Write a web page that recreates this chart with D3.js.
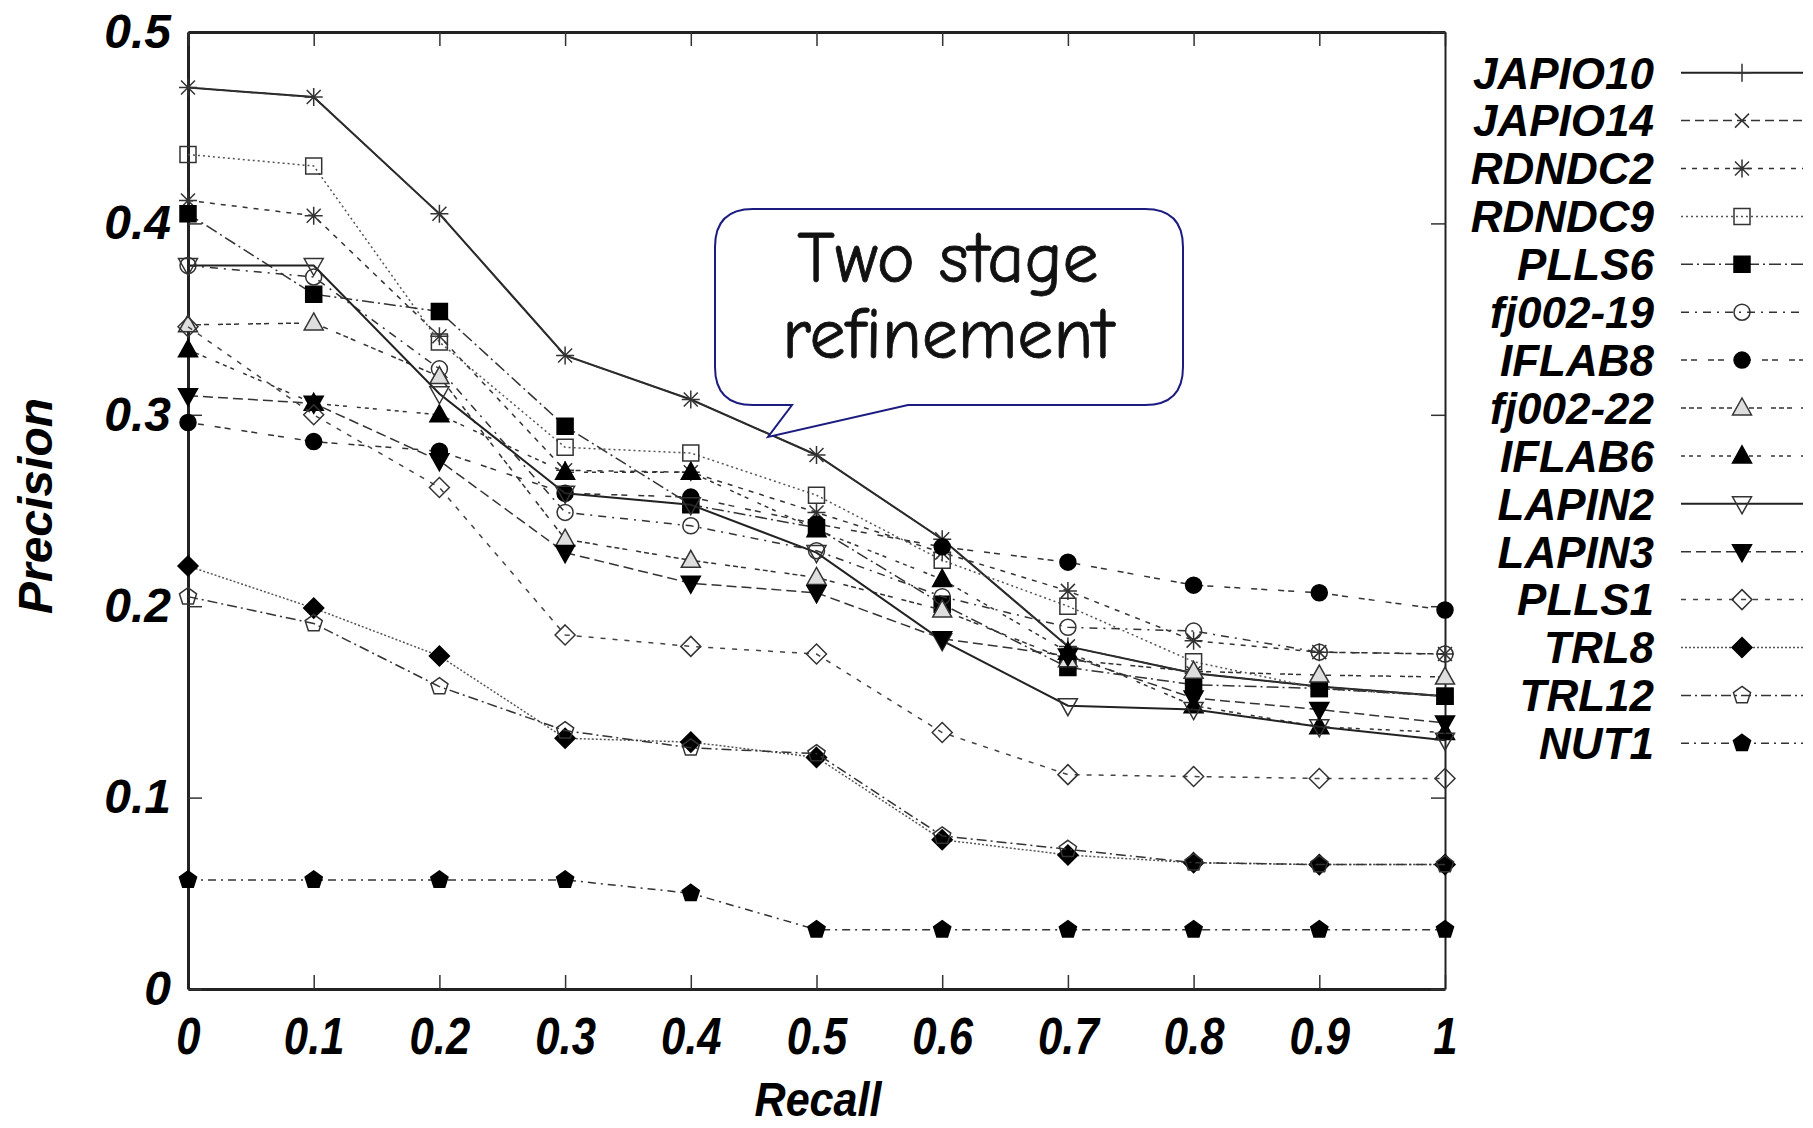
<!DOCTYPE html>
<html>
<head>
<meta charset="utf-8">
<script src="https://cdn.jsdelivr.net/npm/d3@7"></script>
<style>
  body { margin: 0; background: #fff; }
  svg { display: block; }
</style>
</head>
<body>
<div id="chart"></div>
<script>
// Recall levels (x) and tick labels
var recall = [0, 0.1, 0.2, 0.3, 0.4, 0.5, 0.6, 0.7, 0.8, 0.9, 1];
var xTickLabels = ["0", "0.1", "0.2", "0.3", "0.4", "0.5", "0.6", "0.7", "0.8", "0.9", "1"];
var yTicks = [0, 0.1, 0.2, 0.3, 0.4, 0.5];
var yTickLabels = ["0", "0.1", "0.2", "0.3", "0.4", "0.5"];

// Run names, in legend order
var runNames = ["JAPIO10", "JAPIO14", "RDNDC2", "RDNDC9", "PLLS6", "fj002-19", "IFLAB8",
  "fj002-22", "IFLAB6", "LAPIN2", "LAPIN3", "PLLS1", "TRL8", "TRL12", "NUT1"];

// Precision at each recall level
var JAPIO10 = [0.471, 0.466, 0.405, 0.331, 0.308, 0.279, 0.235, 0.179, 0.165, 0.158, 0.153];
var JAPIO14 = [0.471, 0.466, 0.405, 0.331, 0.308, 0.279, 0.235, 0.179, 0.165, 0.158, 0.153];
var RDNDC2 = [0.412, 0.404, 0.341, 0.271, 0.270, 0.249, 0.228, 0.208, 0.182, 0.176, 0.175];
var RDNDC9 = [0.436, 0.430, 0.338, 0.283, 0.280, 0.258, 0.224, 0.200, 0.171, 0.157, 0.153];
var PLLS6 = [0.405, 0.363, 0.354, 0.294, 0.253, 0.241, 0.201, 0.168, 0.159, 0.157, 0.153];
var fj002_19 = [0.378, 0.372, 0.324, 0.249, 0.242, 0.229, 0.205, 0.189, 0.187, 0.176, 0.175];
var IFLAB8 = [0.296, 0.286, 0.281, 0.259, 0.257, 0.243, 0.231, 0.223, 0.211, 0.207, 0.198];
var fj002_22 = [0.347, 0.348, 0.320, 0.235, 0.224, 0.215, 0.198, 0.172, 0.166, 0.164, 0.163];
var IFLAB6 = [0.334, 0.306, 0.300, 0.270, 0.270, 0.240, 0.214, 0.176, 0.148, 0.137, 0.134];
var LAPIN2 = [0.378, 0.378, 0.311, 0.259, 0.253, 0.228, 0.182, 0.148, 0.146, 0.137, 0.130];
var LAPIN3 = [0.310, 0.306, 0.276, 0.228, 0.212, 0.207, 0.183, 0.174, 0.152, 0.146, 0.139];
var PLLS1 = [0.346, 0.300, 0.262, 0.185, 0.179, 0.175, 0.134, 0.112, 0.111, 0.110, 0.110];
var TRL8 = [0.221, 0.199, 0.174, 0.131, 0.129, 0.121, 0.078, 0.070, 0.066, 0.065, 0.065];
var TRL12 = [0.205, 0.191, 0.158, 0.135, 0.126, 0.123, 0.080, 0.073, 0.066, 0.065, 0.065];
var NUT1 = [0.057, 0.057, 0.057, 0.057, 0.050, 0.031, 0.031, 0.031, 0.031, 0.031, 0.031];

var runValues = [JAPIO10, JAPIO14, RDNDC2, RDNDC9, PLLS6, fj002_19, IFLAB8,
  fj002_22, IFLAB6, LAPIN2, LAPIN3, PLLS1, TRL8, TRL12, NUT1];

// gnuplot-like line / point styles, one per run
var styles = [
  { dash: null,            marker: "plus",        fill: "none", color: "#222", w: 2 },
  { dash: "9,5",           marker: "cross",       fill: "none", color: "#333", w: 1.5 },
  { dash: "5,6",           marker: "star",        fill: "none", color: "#333", w: 1.5 },
  { dash: "2,3",           marker: "square",      fill: "none", color: "#555", w: 1.5 },
  { dash: "12,4,2,4",      marker: "square",      fill: "#000", color: "#333", w: 1.5 },
  { dash: "8,6,2,6",       marker: "circle",      fill: "none", color: "#333", w: 1.5 },
  { dash: "6,4,6,11",      marker: "circle",      fill: "#000", color: "#333", w: 1.5 },
  { dash: "5,3,5,3,5,9",   marker: "triangle",    fill: "#dedede", color: "#333", w: 1.5 },
  { dash: "4,4,4,4,4,10",  marker: "triangle",    fill: "#000", color: "#333", w: 1.5 },
  { dash: null,            marker: "invtriangle", fill: "none", color: "#222", w: 2 },
  { dash: "10,5",          marker: "invtriangle", fill: "#000", color: "#333", w: 1.5 },
  { dash: "5,7",           marker: "diamond",     fill: "none", color: "#444", w: 1.5 },
  { dash: "2,2",           marker: "diamond",     fill: "#000", color: "#555", w: 1.5 },
  { dash: "10,4,2,4",      marker: "pentagon",    fill: "none", color: "#333", w: 1.5 },
  { dash: "8,5,2,5",       marker: "pentagon",    fill: "#000", color: "#333", w: 1.5 }
];

// Set up parameters: SVG, height, width, margin
var svgWidth = 1813;
var svgHeight = 1128;
var margin = { top: 32, right: 368, bottom: 139, left: 188 };
var width = svgWidth - margin.left - margin.right;
var height = svgHeight - margin.top - margin.bottom;

var svg = d3.select("#chart")
  .append("svg")
  .attr("width", svgWidth)
  .attr("height", svgHeight);

var chartGroup = svg.append("g")
  .attr("transform", `translate(${margin.left}, ${margin.top})`);

var xScale = d3.scaleLinear().domain([0, 1]).range([0, width]);
var yScale = d3.scaleLinear().domain([0, 0.5]).range([height, 0]);

var labelFont = "'Liberation Sans', Arial, Helvetica, sans-serif";

// Axes: ticks point inward on all four sides
var bottomAxis = d3.axisBottom(xScale)
  .tickValues(recall)
  .tickFormat((d, i) => xTickLabels[i])
  .tickSizeInner(-14).tickSizeOuter(0).tickPadding(28);
var leftAxis = d3.axisLeft(yScale)
  .tickValues(yTicks)
  .tickFormat((d, i) => yTickLabels[i])
  .tickSizeInner(-14).tickSizeOuter(0).tickPadding(17);
var topAxis = d3.axisTop(xScale).tickValues(recall).tickFormat("").tickSizeInner(-14).tickSizeOuter(0);
var rightAxis = d3.axisRight(yScale).tickValues(yTicks).tickFormat("").tickSizeInner(-14).tickSizeOuter(0);

var gx = chartGroup.append("g")
  .attr("transform", `translate(0, ${height})`)
  .call(bottomAxis);
var gy = chartGroup.append("g").call(leftAxis);
var gt = chartGroup.append("g").call(topAxis);
var gr = chartGroup.append("g").attr("transform", `translate(${width}, 0)`).call(rightAxis);

[gx, gy, gt, gr].forEach(function(g) {
  g.select(".domain").attr("stroke", "#222").attr("stroke-width", 3);
  g.selectAll(".tick line").attr("stroke", "#333").attr("stroke-width", 1.5);
});
gr.select(".domain").attr("stroke-width", 2);

gx.selectAll(".tick text")
  .style("font-family", labelFont)
  .style("font-size", "52px")
  .style("font-weight", "bold")
  .style("font-style", "italic")
  .attr("fill", "#000")
  .attr("transform", "scale(0.84,1)");

gy.selectAll(".tick text")
  .style("font-family", labelFont)
  .style("font-size", "48px")
  .style("font-weight", "bold")
  .style("font-style", "italic")
  .attr("fill", "#000");

// Marker shapes drawn as outline paths
function markerPath(shape) {
  var s = 9;
  switch (shape) {
    case "plus": return `M${-s},0H${s}M0,${-s}V${s}`;
    case "cross": { var c = 7; return `M${-c},${-c}L${c},${c}M${-c},${c}L${c},${-c}`; }
    case "star": { var c2 = 7; return `M${-s},0H${s}M0,${-s}V${s}M${-c2},${-c2}L${c2},${c2}M${-c2},${c2}L${c2},${-c2}`; }
    case "square": return "M-8,-8H8V8H-8Z";
    case "circle": return "M8,0A8,8 0 1,1 -8,0A8,8 0 1,1 8,0Z";
    case "triangle": return "M0,-10L9.5,7L-9.5,7Z";
    case "invtriangle": return "M0,10L9.5,-7L-9.5,-7Z";
    case "diamond": return "M0,-10L10,0L0,10L-10,0Z";
    case "pentagon": {
      var pts = d3.range(5).map(function(k) {
        var a = -Math.PI / 2 + k * 2 * Math.PI / 5;
        return [9 * Math.cos(a), 9 * Math.sin(a)];
      });
      return "M" + pts.map(p => p.join(",")).join("L") + "Z";
    }
  }
}

var line = d3.line()
  .x((d, i) => xScale(recall[i]))
  .y(d => yScale(d));

runValues.forEach(function(values, k) {
  var st = styles[k];
  var g = chartGroup.append("g");
  g.append("path")
    .attr("d", line(values))
    .attr("fill", "none")
    .attr("stroke", st.color)
    .attr("stroke-width", st.w)
    .attr("stroke-dasharray", st.dash);
  g.selectAll("path.pt")
    .data(values)
    .enter()
    .append("path")
    .attr("class", "pt")
    .attr("transform", (d, i) => `translate(${xScale(recall[i])}, ${yScale(d)})`)
    .attr("d", markerPath(st.marker))
    .attr("fill", st.fill)
    .attr("stroke", st.fill === "#000" ? "#000" : "#333")
    .attr("stroke-width", 1.5);
});

// Axis titles
svg.append("text")
  .attr("transform", "translate(52, 506) rotate(-90)")
  .attr("text-anchor", "middle")
  .style("font-family", labelFont)
  .style("font-size", "48px")
  .style("font-weight", "bold")
  .style("font-style", "italic")
  .text("Precision");

svg.append("text")
  .attr("transform", "translate(818, 1116) scale(0.88,1)")
  .attr("text-anchor", "middle")
  .style("font-family", labelFont)
  .style("font-size", "49px")
  .style("font-weight", "bold")
  .style("font-style", "italic")
  .text("Recall");

// Callout bubble
var bL = 715, bR = 1183, bT = 209, bB = 405, r = 38;
var bubble = `M${bL + r},${bT} H${bR - r} Q${bR},${bT} ${bR},${bT + r} V${bB - r} Q${bR},${bB} ${bR - r},${bB}` +
  ` H908 L768,437 L792,${bB} H${bL + r} Q${bL},${bB} ${bL},${bB - r} V${bT + r} Q${bL},${bT} ${bL + r},${bT} Z`;
svg.append("path")
  .attr("d", bubble)
  .attr("fill", "#fff")
  .attr("stroke", "#1c1c80")
  .attr("stroke-width", 2);

var bubbleText = ["Two stage", "refinement"];
svg.selectAll("text.callout")
  .data(bubbleText)
  .enter()
  .append("text")
  .attr("class", "callout")
  .attr("x", 948)
  .attr("y", (d, i) => 282 + i * 76)
  .attr("text-anchor", "middle")
  .style("font-family", "'Comic Sans MS', 'Comic Neue', 'DejaVu Sans', sans-serif")
  .style("font-size", "72px")
  .attr("fill", "#111")
  .attr("stroke", "#111")
  .attr("stroke-width", 0.8)
  .text(d => d);

// Legend
var legend = svg.append("g");
runNames.forEach(function(name, k) {
  var st = styles[k];
  var yRow = 72.7 + k * 47.9;
  legend.append("text")
    .attr("x", 1654)
    .attr("y", yRow)
    .attr("dy", "0.36em")
    .attr("text-anchor", "end")
    .style("font-family", labelFont)
    .style("font-size", "44px")
    .style("font-weight", "bold")
    .style("font-style", "italic")
    .text(name);
  legend.append("line")
    .attr("x1", 1681).attr("x2", 1803)
    .attr("y1", yRow).attr("y2", yRow)
    .attr("stroke", st.color)
    .attr("stroke-width", st.w)
    .attr("stroke-dasharray", st.dash);
  legend.append("path")
    .attr("transform", `translate(1742, ${yRow})`)
    .attr("d", markerPath(st.marker))
    .attr("fill", st.fill)
    .attr("stroke", st.fill === "#000" ? "#000" : "#333")
    .attr("stroke-width", 1.5);
});
</script>
</body>
</html>
